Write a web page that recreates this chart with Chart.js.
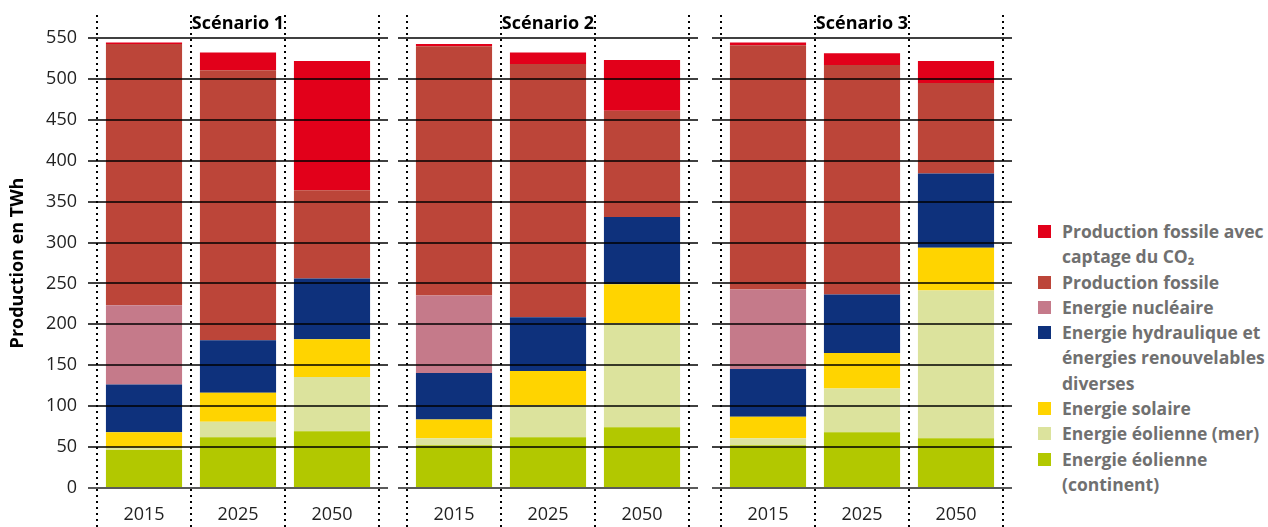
<!DOCTYPE html>
<html lang="fr">
<head>
<meta charset="utf-8">
<title>Production d'électricité par scénario</title>
<script src="https://cdn.jsdelivr.net/npm/chart.js@4.4.1/dist/chart.umd.min.js"></script>
<style>
  html, body { margin: 0; padding: 0; background: #fff; }
  body { width: 1268px; height: 527px; position: relative; overflow: hidden; font-family: 'Open Sans', sans-serif; }
  canvas { position: absolute; top: 0; }
  #legend { position: absolute; left: 1038px; top: 219px; font-size: 17.5px; font-weight: 700; color: #707070; line-height: 25.3px; }
  #legend .item { position: relative; padding-left: 24px; white-space: nowrap; }
  #legend .box { position: absolute; left: 0; top: 6px; width: 13px; height: 13px; }
</style>
</head>
<body>
<canvas id="chart1" width="390" height="527" style="left:0px"></canvas>
<canvas id="chart2" width="300" height="527" style="left:398px"></canvas>
<canvas id="chart3" width="300" height="527" style="left:712px"></canvas>
<div id="legend"></div>

<script>
    // Categories and ticks
    const years = ['2015', '2025', '2050'];
    const scenarios = ['Scénario 1', 'Scénario 2', 'Scénario 3'];
    const yTicks = [0, 50, 100, 150, 200, 250, 300, 350, 400, 450, 500, 550];

    // TWh per scenario, each inner list is [2015, 2025, 2050]
    const windOnshore = [[46.5, 62, 69.3], [52.2, 62, 74.2], [52.2, 68.1, 60.7]];
    const windOffshore = [[2.8, 19, 66.5], [8.5, 39.5, 127.2], [8.5, 53.4, 180.6]];
    const solar = [[18.8, 35.5, 46], [22.9, 41.6, 47.7], [26.5, 43.6, 52.2]];
    const hydro = [[58.3, 64, 74.2], [57, 65.6, 82], [58.3, 71.3, 90.9]];
    const nuclear = [[97, 0, 0], [94.6, 0, 0], [97.1, 0, 0]];
    const fossil = [[319.2, 330.2, 108], [304.8, 309.4, 130], [298.4, 280.6, 110.5]];
    const fossilCCS = [[2, 21.6, 157.8], [2.6, 14.3, 62], [3.6, 14.3, 26.9]];

    // Series from bottom of the stack to the top
    const series = [
        { label: ['Energie éolienne', '(continent)'], data: windOnshore, color: '#b2c800' },
        { label: ['Energie éolienne (mer)'], data: windOffshore, color: '#dce39d' },
        { label: ['Energie solaire'], data: solar, color: '#ffd400' },
        { label: ['Energie hydraulique et', 'énergies renouvelables', 'diverses'], data: hydro, color: '#0e317c' },
        { label: ['Energie nucléaire'], data: nuclear, color: '#c57a8a' },
        { label: ['Production fossile'], data: fossil, color: '#bc4539' },
        { label: ['Production fossile avec', 'captage du CO₂'], data: fossilCCS, color: '#e2001a' }
    ];

    const tickFont = { family: "'Open Sans', sans-serif", size: 18, weight: '400' };

    // Gridlines over the bars, dotted year separators and panel title
    const panelLines = {
        id: 'panelLines',
        afterDatasetsDraw(chart) {
            const { ctx, chartArea: a, scales: { y } } = chart;
            ctx.save();
            yTicks.forEach(v => {
                const py = Math.round(y.getPixelForValue(v));
                ctx.beginPath();
                ctx.strokeStyle = v === 0 ? '#5a5a5a' : '#000';
                ctx.lineWidth = v === 0 ? 2 : 1.4;
                ctx.moveTo(a.left - 9, py);
                ctx.lineTo(a.right + 9, py);
                ctx.stroke();
            });

            ctx.setLineDash([2, 4]);
            ctx.lineWidth = 2;
            ctx.strokeStyle = '#000';
            const step = (a.right - a.left) / years.length;
            for (let i = 0; i <= years.length; i++) {
                const px = Math.round(a.left + i * step);
                ctx.beginPath();
                ctx.moveTo(px, 15);
                ctx.lineTo(px, chart.height);
                ctx.stroke();
            }
            ctx.setLineDash([]);

            ctx.fillStyle = '#000';
            ctx.font = "700 18px 'Open Sans', sans-serif";
            ctx.textAlign = 'center';
            ctx.textBaseline = 'middle';
            ctx.fillText(chart.options.panelTitle, (a.left + a.right) / 2, 24);
            ctx.restore();
        }
    };

    function makeChart(id, s) {
        const first = s === 0;
        return new Chart(document.getElementById(id), {
            type: 'bar',
            data: {
                labels: years,
                datasets: series.map(d => ({
                    label: d.label.join(' '),
                    data: d.data[s],
                    backgroundColor: d.color,
                    borderWidth: 0,
                    categoryPercentage: 1,
                    barPercentage: 0.81
                }))
            },
            options: {
                responsive: false,
                animation: false,
                panelTitle: scenarios[s],
                layout: { padding: { top: 38, left: first ? 0 : 9, right: first ? 11 : 9, bottom: 0 } },
                plugins: {
                    legend: { display: false },
                    tooltip: { enabled: false },
                    title: { display: false }
                },
                scales: {
                    x: {
                        stacked: true,
                        grid: { display: false, drawTicks: false },
                        border: { display: false },
                        ticks: { font: tickFont, color: '#222', padding: 16 },
                        afterFit: sc => { sc.height = 39; }
                    },
                    y: {
                        stacked: true,
                        display: first,
                        min: 0,
                        max: 550,
                        grid: { display: false, drawTicks: false },
                        border: { display: false },
                        ticks: { stepSize: 50, font: tickFont, color: '#222', padding: 20 },
                        title: {
                            display: true,
                            text: 'Production en TWh',
                            font: { family: "'Open Sans', sans-serif", size: 18, weight: '700' },
                            color: '#000',
                            padding: { top: 7, bottom: 0 }
                        },
                        afterFit: sc => { sc.width = first ? 97 : 0; }
                    }
                }
            },
            plugins: [panelLines]
        });
    }

    makeChart('chart1', 0);
    makeChart('chart2', 1);
    makeChart('chart3', 2);

    // Legend, top entry is the top of the stack
    const legend = document.getElementById('legend');
    series.slice().reverse().forEach(d => {
        const item = document.createElement('div');
        item.className = 'item';
        item.innerHTML = `<span class="box" style="background:${d.color}"></span>${d.label.join('<br>')}`;
        legend.appendChild(item);
    });
</script>
</body>
</html>
